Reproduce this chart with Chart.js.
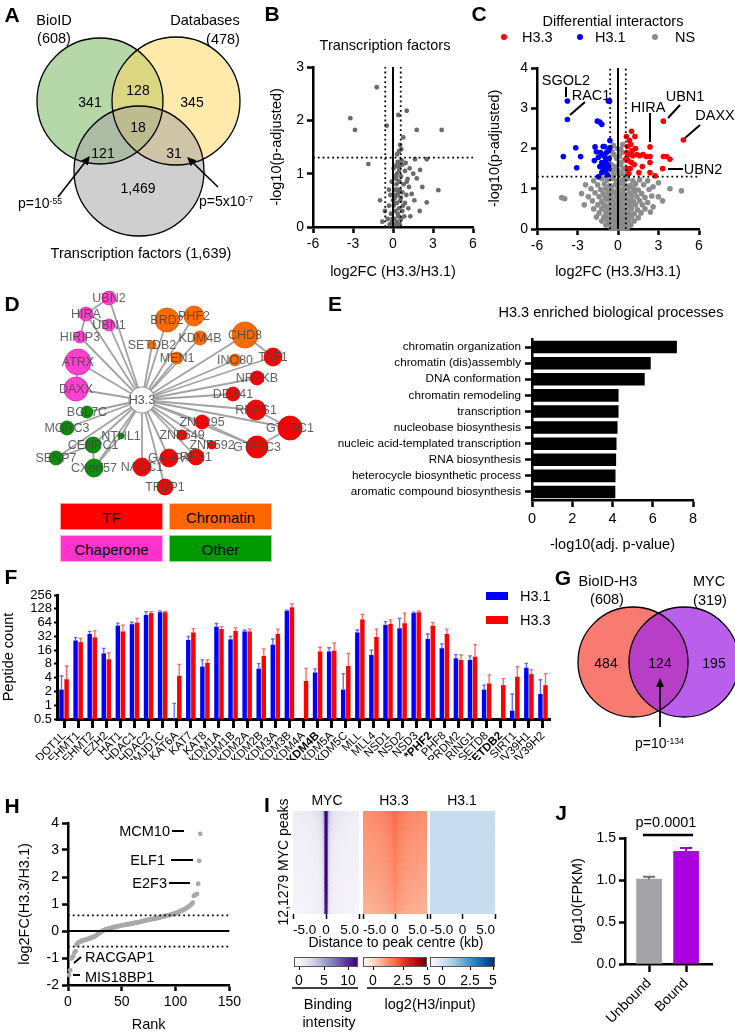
<!DOCTYPE html>
<html>
<head>
<meta charset="utf-8">
<title>H3.3 interactome figure</title>
<script src="https://cdn.jsdelivr.net/npm/chart.js@4.4.1/dist/chart.umd.min.js"></script>
<style>
  html, body { margin:0; padding:0; background:#fff; }
  #page { position:relative; width:735px; height:1032px; overflow:hidden; background:#fff;
          font-family:"Liberation Sans", Arial, Helvetica, sans-serif; color:#000; }
  #page canvas { position:absolute; }
  .tx { position:absolute; white-space:nowrap; line-height:1; }
  .tx sup { font-size:0.62em; line-height:0; vertical-align:0; position:relative; top:-0.45em; }
</style>
</head>
<body>
<div id="page"></div>
<script>
// ======================= DATA =======================
// Panel A (Venn)
const vennASets = ['BioID', 'Databases', 'Transcription factors'];
const vennASetTotals = ['608', '478', '1,639'];
const vennARegionCounts = ['341', '128', '345', '121', '18', '31', '1,469'];

// Panel B (transcription factors volcano) [log2FC, -log10 padj]
const tfPoints = [
 [-3.2,2.04],[-2.85,1.82],[-1.22,2.62],[1.03,2.18],[0.4,2.1],[-0.47,1.9],[1.78,1.82],[3.65,1.82],[0.77,1.68],[0.53,1.54],
 [0.45,1.42],[0.62,1.46],[0.3,1.36],[-1.85,1.18],[0.4,1.13],[0.55,1.16],[0.7,1.17],[1.65,1.27],[2.53,1.27],[2.03,1.07],
 [1.52,1.0],[1.03,0.85],[1.78,0.91],[3.4,0.69],[2.53,0.46],[-0.97,0.5],[1.25,1.1],[0.9,1.05],[0.3,1.0],[0.15,0.95],
 [0.6,0.95],[0.45,0.85],[0.8,0.8],[1.2,0.75],[0.25,0.8],[0.1,0.7],[0.5,0.7],[0.7,0.65],[1.0,0.6],[1.4,0.62],
 [0.35,0.6],[-0.2,0.6],[0.15,0.55],[0.55,0.5],[0.9,0.45],[1.6,0.5],[0.3,0.45],[-0.3,0.4],[0.05,0.4],[0.45,0.35],
 [0.7,0.3],[1.15,0.35],[0.2,0.3],[-0.15,0.25],[0.4,0.2],[0.6,0.15],[0.1,0.15],[-0.4,0.15],[0.85,0.2],[0.3,0.1],
 [-0.1,0.08],[0.2,0.05],[0.5,0.05],[-0.25,0.05],[1.3,0.2],[2.0,0.3],[-0.6,0.3],[-0.8,0.1],[0.05,1.1],[-0.1,0.85],
 [0.35,1.22],[0.2,1.15],[0.65,1.25],[-0.3,0.7],[1.1,0.9],[0.0,0.5],[2.2,0.75],[0.95,1.2],[0.25,0.9],[0.45,1.05],
 [0.15,0.6],[0.6,0.55],[0.35,0.25],[0.1,0.45],[0.5,0.85],[0.3,0.7],[0.75,0.4],[0.2,0.95],[-0.05,0.15],[0.4,0.65]
];
const fcCutoff = 0.58;
const padjCutoff = 1.3;

// Panel C (differential interactors) [log2FC, -log10 padj]
const h33Points = [
 [3.36,2.68],[4.84,2.21],[2.37,2.04],[3.36,1.8],[3.6,1.8],[3.85,1.73],[3.31,1.5],[1.0,2.43],[1.25,2.3],[0.85,2.2],
 [0.7,2.05],[0.95,2.1],[1.3,2.0],[0.65,1.9],[0.85,1.85],[1.1,1.82],[1.4,1.85],[1.6,1.82],[1.85,1.85],[2.1,1.8],
 [2.37,1.8],[2.37,1.65],[0.75,1.7],[1.0,1.65],[0.7,1.5],[1.2,1.6],[0.6,1.75],[1.55,1.4],[2.37,1.4],[2.75,1.32],
 [0.9,1.5],[1.8,1.55],[0.8,1.38],[1.05,1.95],[0.62,2.3]
];
const h31Points = [
 [-3.75,3.18],[-3.75,2.72],[-0.72,3.18],[-0.62,3.18],[-1.53,2.68],[-1.35,2.66],[-1.2,2.6],[-3.13,2.02],[-4.05,1.8],[-2.77,1.8],
 [-3.06,1.52],[-1.7,2.04],[-1.1,2.05],[-0.6,2.2],[-0.6,2.02],[-1.75,1.7],[-1.45,1.78],[-1.3,1.9],[-1.15,1.85],[-1.0,1.8],
 [-0.85,1.9],[-0.7,1.95],[-1.2,1.65],[-1.05,1.62],[-0.9,1.7],[-0.75,1.6],[-1.35,1.55],[-1.1,1.5],[-0.95,1.45],[-0.8,1.35],
 [-1.45,1.3],[-1.2,1.4],[-0.65,1.75],[-1.6,1.92],[-0.9,1.55],[-0.68,1.5],[-1.0,2.05]
];
const nsPoints = [
 [-0.45,1.92],[-0.3,1.85],[-0.1,1.75],[0.1,1.8],[0.3,1.9],[0.45,1.7],[-0.5,1.6],[-0.2,1.55],[0.2,1.6],[0.4,1.5],
 [-0.4,1.45],[0.0,1.45],[0.25,1.38],[-0.3,1.35],[0.5,1.35],[0.1,1.65],[-0.05,2.0],[0.35,2.1],[0.2,1.98],[-0.35,2.08],
 [-1.8,1.2],[-1.2,1.25],[-0.8,1.22],[-0.4,1.25],[-0.1,1.2],[0.3,1.22],[0.7,1.25],[1.1,1.2],[1.6,1.22],[2.2,1.2],
 [3.0,1.15],[-2.4,1.1],[-1.5,1.1],[-1.0,1.12],[-0.6,1.08],[-0.2,1.1],[0.15,1.12],[0.5,1.1],[0.9,1.08],[1.3,1.12],
 [1.9,1.1],[2.6,1.05],[-2.0,1.0],[-1.3,0.98],[-0.9,1.0],[-0.5,1.02],[0.0,1.0],[0.35,0.98],[0.75,1.02],[1.15,1.0],
 [1.5,0.97],[2.3,0.98],[3.85,1.0],[4.7,0.95],[-2.7,0.88],[-1.7,0.9],[-1.1,0.88],[-0.7,0.9],[-0.3,0.92],[0.1,0.9],
 [0.45,0.88],[0.85,0.9],[1.25,0.92],[1.75,0.88],[2.99,0.8],[-4.17,0.78],[-3.95,0.75],[-2.2,0.8],[-1.4,0.8],[-0.95,0.78],
 [-0.55,0.82],[-0.15,0.8],[0.25,0.8],[0.6,0.78],[1.0,0.82],[1.4,0.8],[2.0,0.78],[2.5,0.82],[-1.9,0.7],[-1.2,0.68],
 [-0.8,0.72],[-0.4,0.7],[0.0,0.7],[0.35,0.72],[0.75,0.7],[1.15,0.68],[1.6,0.7],[2.2,0.66],[3.3,0.7],[-2.5,0.6],
 [-1.5,0.6],[-1.0,0.58],[-0.6,0.6],[-0.25,0.62],[0.1,0.6],[0.5,0.6],[0.9,0.58],[1.3,0.6],[1.8,0.6],[2.6,0.55],
 [-1.8,0.5],[-1.2,0.5],[-0.75,0.52],[-0.4,0.5],[-0.1,0.48],[0.25,0.5],[0.6,0.52],[1.0,0.5],[1.45,0.48],[2.0,0.5],
 [-1.4,0.4],[-0.9,0.42],[-0.55,0.4],[-0.2,0.38],[0.15,0.4],[0.45,0.42],[0.8,0.4],[1.2,0.38],[1.7,0.4],[2.4,0.42],
 [-1.6,0.3],[-1.05,0.3],[-0.7,0.32],[-0.35,0.3],[0.0,0.28],[0.3,0.3],[0.65,0.32],[1.0,0.3],[1.5,0.28],[-1.2,0.2],
 [-0.8,0.22],[-0.45,0.2],[-0.15,0.18],[0.15,0.2],[0.45,0.22],[0.8,0.2],[1.2,0.2],[-0.9,0.1],[-0.6,0.12],[-0.3,0.1],
 [0.0,0.08],[0.3,0.1],[0.6,0.12],[0.95,0.1],[-0.5,0.03],[-0.2,0.02],[0.1,0.03],[0.4,0.02],[0.7,0.04],[-0.25,0.45],
 [0.2,0.65],[-0.05,0.35],[0.4,0.85],[-0.45,0.95],[0.05,1.15],[0.55,0.25],[-0.6,0.85],[0.65,1.05],[-0.15,0.6],[0.25,0.15],
 [1.05,0.7],[-1.05,0.6],[0.85,0.35],[-0.85,0.4],[0.1,0.5],[-0.1,0.9],[0.45,1.2],[-0.3,0.2],[0.7,0.55],[-0.5,0.7]
];
const diffGroups = ['H3.3', 'H3.1', 'NS'];
const labelledGenes = ['SGOL2', 'RAC1', 'HIRA', 'UBN1', 'DAXX', 'UBN2'];

// Panel D (network)
const netNodes = ['UBN2','HIRA','UBN1','HIRIP3','ATRX','DAXX','BRD2','PHF2','SETDB2','KDM4B','MEN1','CHD8','INO80',
  'TAF1','NFRKB','DDX41','RNPS1','GTF3C1','GTF3C3','ZNF295','ZNF649','ZNF592','RFX1','GABPA','NACC1','TFDP1',
  'BCL7C','MORC3','NTHL1','CENPC1','SENP7','CXorf57'];
const netClasses = ['Chaperone','Chaperone','Chaperone','Chaperone','Chaperone','Chaperone',
  'Chromatin','Chromatin','Chromatin','Chromatin','Chromatin','Chromatin','Chromatin',
  'TF','TF','TF','TF','TF','TF','TF','TF','TF','TF','TF','TF','TF',
  'Other','Other','Other','Other','Other','Other'];
const netWeights = [7,7,6,6,13,12,12,10,4,7,6,13,6,9,7,7,10,12,11,7,5,4,8,9,9,8,6,7,3,8,7,9];
const netHub = 'H3.3';
const netExtraEdges = [['HIRA','UBN2'],['HIRA','UBN1'],['HIRA','HIRIP3'],['ATRX','DAXX'],['CHD8','TAF1'],
  ['RNPS1','GTF3C1'],['GTF3C1','GTF3C3'],['ZNF295','GTF3C3'],['CENPC1','CXorf57'],['CENPC1','SENP7'],['NTHL1','CXorf57']];
const netCategories = ['TF', 'Chromatin', 'Chaperone', 'Other'];

// Panel E (GO enrichment)
const goTerms = ['chromatin organization','chromatin (dis)assembly','DNA conformation','chromatin remodeling',
  'transcription','nucleobase biosynthesis','nucleic acid-templated transcription','RNA biosynthesis',
  'heterocycle biosynthetic process','aromatic compound biosynthesis'];
const goScores = [7.2, 5.9, 5.6, 4.3, 4.3, 4.25, 4.2, 4.18, 4.15, 4.14];

// Panel F (peptide counts)
const modifiers = ['DOT1L','EHMT1','EHMT2','EZH2','HAT1','HDAC1','HDAC2','JMJD1C','KAT6A','KAT7','KAT8',
  'KDM1A','KDM1B','KDM2A','KDM2B','KDM3A','KDM3B','KDM4A','*KDM4B','KDM5A','KDM5C','MLL','MLL4','NSD1',
  'NSD2','NSD3','*PHF2','PHF8','PRDM2','RING1','SETD8','*SETDB2','SIRT1','SUV39H1','SUV39H2'];
const h31Counts = [2.2,26,36,13.6,55,59,94,108,null,26.6,7.0,52,27.5,41,6.3,21,116,null,5.2,15,2.2,39,12.5,57,48,103,28,17.6,10.6,9.8,2.2,null,0.76,6.6,1.76];
const h31Upper  = [4.35,30,41,17.5,62,65,111,115,1.1,32,9.8,61,32,44,8.1,28,120,null,6.2,18,4.9,44,16,67,79,108,36,22,12.7,12,2.75,null,1.76,8.2,3.6];
const h33Counts = [3.7,24,30.5,10.1,41,64,103,108,4.4,39,8.5,46,42,41,12,36,138,3.4,15,15.6,7.2,75,31,60,62,108,55,36,9.8,11.5,3,2.75,4.2,4.8,2.75];
const h33Upper  = [7.2,29,42,14,56,79,111,111,7.8,47,9.8,52,49,46,17,46,164,6.4,18.5,23,13.6,97,46,73,103,115,64,46,12.5,21,4.6,3.8,7,5.9,4.9];
const peptideTicks = [0.5, 1, 2, 4, 8, 16, 32, 64, 128, 256];

// Panel G (Venn)
const vennGSets = ['BioID-H3', 'MYC'];
const vennGSetTotals = ['608', '319'];
const vennGRegionCounts = ['484', '124', '195'];

// Panel H (ranked log2FC of MYC-bound interactors)
const rankedFC = [
 -1.63,-1.45,-1.02,-0.98,-0.92,-0.8,-0.75,-0.5,-0.45,-0.42,
 -0.4,-0.38,-0.37,-0.35,-0.34,-0.33,-0.32,-0.3,-0.29,-0.28,
 -0.26,-0.25,-0.23,-0.21,-0.19,-0.17,-0.14,-0.11,-0.08,-0.05,
 -0.03,0.0,0.02,0.04,0.05,0.07,0.08,0.09,0.1,0.11,
 0.12,0.13,0.14,0.15,0.16,0.17,0.18,0.19,0.2,0.21,
 0.22,0.22,0.23,0.24,0.25,0.25,0.26,0.27,0.27,0.28,
 0.29,0.3,0.31,0.31,0.32,0.33,0.34,0.35,0.36,0.37,
 0.38,0.39,0.4,0.41,0.42,0.42,0.43,0.44,0.45,0.45,
 0.46,0.47,0.48,0.49,0.5,0.51,0.52,0.53,0.54,0.55,
 0.56,0.57,0.58,0.59,0.6,0.61,0.62,0.63,0.64,0.65,
 0.67,0.69,0.7,0.72,0.74,0.76,0.78,0.8,0.82,0.84,
 0.87,0.9,0.93,0.96,1.0,1.05,
 1.3,1.33,1.35,1.37,
 1.75,2.6,3.6
];
const rankedLabels = ['MCM10','ELF1','E2F3','RACGAP1','MIS18BP1'];

// Panel I (heatmaps: 40 bins from -5 to +5 kb, 40 row groups top->bottom)
const heatTracks = ['MYC', 'H3.3', 'H3.1'];
const mycProfile = [1.0,1.0,1.0,1.05,1.05,1.05,1.1,1.1,1.15,1.15,1.2,1.25,1.3,1.35,1.45,1.6,1.8,2.2,3.2,14,
                    14,3.2,2.2,1.8,1.6,1.45,1.35,1.3,1.25,1.2,1.15,1.15,1.1,1.1,1.05,1.05,1.05,1.0,1.0,1.0];
const mycRows = [1.55,1.5,1.42,1.38,1.33,1.3,1.25,1.22,1.2,1.16,1.14,1.1,1.08,1.05,1.04,1.02,1.0,0.98,0.97,0.95,
                 0.94,0.93,0.92,0.9,0.9,0.89,0.88,0.87,0.86,0.85,0.85,0.84,0.83,0.82,0.82,0.81,0.8,0.8,0.79,0.78];
const h33Profile = [1.75,1.75,1.76,1.77,1.78,1.79,1.8,1.81,1.82,1.83,1.85,1.87,1.89,1.92,1.95,1.98,2.02,2.07,2.14,2.25,
                    2.25,2.14,2.07,2.02,1.98,1.95,1.92,1.89,1.87,1.85,1.83,1.82,1.81,1.8,1.79,1.78,1.77,1.76,1.75,1.75];
const h33Rows = [1.12,1.1,1.08,1.1,1.06,1.05,1.07,1.03,1.04,1.02,1.0,1.02,0.99,1.0,0.98,0.97,0.99,0.96,0.95,0.97,
                 0.94,0.93,0.95,0.92,0.91,0.93,0.9,0.89,0.9,0.87,0.88,0.86,0.85,0.86,0.83,0.84,0.82,0.8,0.81,0.78];
const h31Profile = [1.18,1.18,1.19,1.19,1.19,1.2,1.2,1.2,1.2,1.2,1.21,1.21,1.21,1.21,1.22,1.22,1.22,1.23,1.23,1.24,
                    1.24,1.23,1.23,1.22,1.22,1.22,1.21,1.21,1.21,1.21,1.2,1.2,1.2,1.2,1.2,1.19,1.19,1.19,1.18,1.18];
const h31Rows = [1.0,1.02,0.99,1.01,1.0,0.98,1.01,1.0,0.99,1.02,1.0,0.99,1.0,1.01,0.98,1.0,0.99,1.0,1.01,0.99,
                 0.98,1.0,0.99,1.0,0.98,0.99,1.0,0.98,0.99,0.98,0.99,0.98,0.97,0.99,0.98,0.97,0.98,0.97,0.96,0.97];
const heatTickValues = [-5, 0, 5];
const mycBarTicks = ['0', '5', '10'];
const h3BarTicks = ['0', '2.5', '5'];

// Panel J
const jGroups = ['Unbound', 'Bound'];
const jMeans = [1.01, 1.34];
const jSEM = [0.03, 0.04];
const jPvalue = 'p=0.0001';

// ======================= STYLE / HELPERS =======================
const page = document.getElementById('page');
const FONT = '"Liberation Sans", Arial, Helvetica, sans-serif';
Chart.defaults.font.family = FONT;
Chart.defaults.color = '#000';

function canvasAt(L, T, W, H) {
  const c = document.createElement('canvas');
  c.width = W; c.height = H;
  c.style.left = L + 'px'; c.style.top = T + 'px';
  c.style.width = W + 'px'; c.style.height = H + 'px';
  page.appendChild(c);
  return c;
}
function baseOpts() {
  return { responsive:false, maintainAspectRatio:false, animation:false, events:[], devicePixelRatio:1,
    plugins:{ legend:{display:false}, tooltip:{enabled:false} } };
}
function pixelChart(L, T, W, H, datasets, plugins) {
  const cv = canvasAt(L, T, W, H);
  const o = baseOpts();
  o.layout = { padding:0, autoPadding:false };
  o.scales = { x:{type:'linear', display:false, min:L, max:L+W}, y:{type:'linear', display:false, min:T, max:T+H, reverse:true} };
  return new Chart(cv, { type:'bubble', data:{datasets}, options:o, plugins:plugins||[] });
}
function axis(o) {
  const s = {
    type: o.type || 'linear',
    border: { display:true, color:'#000', width:o.bw || 2.5 },
    grid: { display:true, drawOnChartArea:false, drawTicks:true, tickLength:(o.tl !== undefined ? o.tl : 6),
            tickWidth:o.tw || 2.5, tickColor:'#000', color:'#000', offset:false },
    ticks: Object.assign({ color:'#000', font:{ size:o.fs || 14 }, padding:(o.tp !== undefined ? o.tp : 3), autoSkip:false }, o.ticks || {})
  };
  if (o.min !== undefined) s.min = o.min;
  if (o.max !== undefined) s.max = o.max;
  if (o.title) s.title = { display:true, text:o.title, color:'#000', font:{ size:o.tfs || 14.5 }, padding:0 };
  if (o.extra) Object.assign(s, o.extra);
  return s;
}
// area = [x0,y0,x1,y1] of the plotting area in page pixels
function axisChart(area, o, type, data, scales, plugins, extra) {
  const L = Math.round(area[0] - o.yW), T = Math.round(area[1] - o.pT);
  const W = Math.round(area[2] + o.pR - L), H = Math.round(area[3] + o.xH - T);
  const yW = area[0] - L, pT = area[1] - T, pR = L + W - area[2], xH = T + H - area[3];
  const cv = canvasAt(L, T, W, H);
  scales.y.afterFit = s => { s.width = yW; };
  scales.x.afterFit = s => { s.height = xH; };
  const opts = Object.assign(baseOpts(), { layout:{ autoPadding:false, padding:{ top:pT, right:pR, bottom:0, left:0 } }, scales }, extra || {});
  return new Chart(cv, { type, data, options:opts, plugins:plugins || [] });
}
function refLines(lines) {
  return { id:'reflines', afterDatasetsDraw(chart) {
    const { ctx, scales:{ x, y } } = chart;
    ctx.save();
    lines.forEach(l => {
      ctx.beginPath();
      ctx.lineWidth = l.w; ctx.strokeStyle = '#000'; ctx.lineCap = 'butt';
      ctx.setLineDash(l.dash || []);
      ctx.moveTo(x.getPixelForValue(l.x1), y.getPixelForValue(l.y1));
      ctx.lineTo(x.getPixelForValue(l.x2), y.getPixelForValue(l.y2));
      ctx.stroke();
    });
    ctx.restore();
  }};
}
function txt(html, x, y, size, opt) {
  opt = opt || {};
  const d = document.createElement('div');
  d.className = 'tx';
  d.style.left = x + 'px'; d.style.top = y + 'px'; d.style.fontSize = size + 'px';
  const tx = opt.anchor === 'l' ? '0' : (opt.anchor === 'r' ? '-100%' : '-50%');
  d.style.transform = `translate(${tx},-50%)` + (opt.rot ? ` rotate(${opt.rot}deg)` : '');
  if (opt.bold) d.style.fontWeight = 'bold';
  if (opt.color) d.style.color = opt.color;
  d.innerHTML = html;
  page.appendChild(d);
  return d;
}
function box(x, y, w, h, style) {
  const d = document.createElement('div');
  d.style.position = 'absolute';
  d.style.left = x + 'px'; d.style.top = y + 'px'; d.style.width = w + 'px'; d.style.height = h + 'px';
  Object.assign(d.style, style || {});
  page.appendChild(d);
  return d;
}
function hexToRgb(h) { return [parseInt(h.substr(1,2),16), parseInt(h.substr(3,2),16), parseInt(h.substr(5,2),16)]; }
function colorAt(stops, t) {
  t = Math.max(0, Math.min(1, t));
  const p = t * (stops.length - 1), i = Math.min(Math.floor(p), stops.length - 2), f = p - i;
  const a = hexToRgb(stops[i]), b = hexToRgb(stops[i+1]);
  return `rgb(${Math.round(a[0]+(b[0]-a[0])*f)},${Math.round(a[1]+(b[1]-a[1])*f)},${Math.round(a[2]+(b[2]-a[2])*f)})`;
}
const PURPLES = ['#fcfbfd','#efedf5','#dadaeb','#bcbddc','#9e9ac8','#807dba','#6a51a3','#54278f','#3f007d'];
const REDS = ['#fff5f0','#fee0d2','#fcbba1','#fc9272','#fb6a4a','#ef3b2c','#cb181d','#a50f15','#67000d'];
const BLUES = ['#f7fbff','#deebf7','#c6dbef','#9ecae1','#6baed6','#4292c6','#2171b5','#08519c','#08306b'];

const TXT = 14.5;
const toXY = p => ({ x:p[0], y:p[1] });

// ======================= PANEL A =======================
(function () {
  const circles = [{x:100,y:101,r:63},{x:176,y:101,r:64},{x:139,y:171,r:65}];
  const fills = ['rgb(182,215,168)', 'rgba(255,213,89,0.5)', 'rgba(160,160,160,0.5)'];
  pixelChart(0, 0, 262, 262, [
    { data:circles.map(c => ({x:c.x, y:c.y, r:c.r})), backgroundColor:fills, borderWidth:0, order:2, clip:false },
    { data:circles.map(c => ({x:c.x, y:c.y, r:c.r})), backgroundColor:'rgba(0,0,0,0)', borderColor:'#000', borderWidth:1.3, order:1, clip:false }
  ]);
  txt(vennASets[0], 54, 20, TXT); txt('(' + vennASetTotals[0] + ')', 54, 38, TXT);
  txt(vennASets[1], 205, 20, TXT); txt('(' + vennASetTotals[1] + ')', 223, 39, TXT);
  const pos = [[90,102],[138,90],[192,102],[103,153],[138,127],[174,153],[138,188]];
  vennARegionCounts.forEach((s, i) => txt(s, pos[i][0], pos[i][1], 14));
  txt('p=10<sup>-55</sup>', 18, 203, 14, {anchor:'l'});
  txt('p=5x10<sup>-7</sup>', 199, 201, 14, {anchor:'l'});
  txt(vennASets[2] + ' (' + vennASetTotals[2] + ')', 141, 253, TXT);
})();

// ======================= PANEL B =======================
axisChart([313, 67, 473, 227], { yW:44.7, pT:15, pR:14, xH:53.7 }, 'scatter',
  { datasets:[{ data:tfPoints.map(toXY), pointRadius:2.4, pointBackgroundColor:'#6b6b6b', pointBorderWidth:0, clip:false }] },
  { x:axis({ min:-6, max:6, ticks:{ stepSize:3 }, title:'log2FC (H3.3/H3.1)' }),
    y:axis({ min:0, max:3, ticks:{ stepSize:1 }, title:'-log10(p-adjusted)' }) },
  [refLines([
    { x1:-6, y1:padjCutoff, x2:6, y2:padjCutoff, w:1.8, dash:[1.8,3] },
    { x1:-fcCutoff, y1:0, x2:-fcCutoff, y2:3, w:1.8, dash:[1.8,3] },
    { x1:fcCutoff, y1:0, x2:fcCutoff, y2:3, w:1.8, dash:[1.8,3] },
    { x1:0, y1:0, x2:0, y2:3, w:2 }
  ])]);
txt('Transcription factors', 385, 45, TXT);

// ======================= PANEL C =======================
axisChart([537, 68, 699, 229], { yW:50.7, pT:20, pR:36, xH:51.7 }, 'scatter',
  { datasets:[
    { data:nsPoints.map(toXY), pointRadius:2.8, pointBackgroundColor:'#8c8c8c', pointBorderWidth:0, clip:false, order:3 },
    { data:h31Points.map(toXY), pointRadius:2.8, pointBackgroundColor:'#0000ff', pointBorderWidth:0, clip:false, order:2 },
    { data:h33Points.map(toXY), pointRadius:2.8, pointBackgroundColor:'#ff0000', pointBorderWidth:0, clip:false, order:1 }
  ]},
  { x:axis({ min:-6, max:6, ticks:{ stepSize:3 }, title:'log2FC (H3.3/H3.1)' }),
    y:axis({ min:0, max:4, ticks:{ stepSize:1 }, title:'-log10(p-adjusted)' }) },
  [refLines([
    { x1:-6, y1:padjCutoff, x2:6, y2:padjCutoff, w:1.8, dash:[1.8,3] },
    { x1:-fcCutoff, y1:0, x2:-fcCutoff, y2:4, w:1.8, dash:[1.8,3] },
    { x1:fcCutoff, y1:0, x2:fcCutoff, y2:4, w:1.8, dash:[1.8,3] },
    { x1:0, y1:0, x2:0, y2:4, w:2 }
  ])]);
txt('Differential interactors', 613, 21, TXT);
[['#ff0000',504,522],['#0000ff',580,595],['#8c8c8c',655,675]].forEach((c, i) => {
  box(c[1]-3, 34, 6, 6, { background:c[0], borderRadius:'50%' });
  txt(diffGroups[i], c[2], 37, TXT, {anchor:'l'});
});
const geneLabelPos = [[566,80],[591,95],[648,107],[685,96],[715,115],[703,169]];
labelledGenes.forEach((g, i) => txt(g, geneLabelPos[i][0], geneLabelPos[i][1], TXT));

// ======================= PANEL D =======================
(function () {
  const nodeLayoutX = [109,86,109,80,78,76,167,194,152,200,177,245,235,273,257,233,256,290,257,202,182,212,196,169,142,165,87,67,121,93,56,94];
  const nodeLayoutY = [298,314,325,337,362,389,320,316,345,338,358,335,360,357,378,394,410,428,447,422,435,445,457,458,467,487,412,428,436,445,458,468];
  const hub = { x:142, y:400 };
  const fillOf = { TF:'#ff0000', Chromatin:'#ff6a00', Chaperone:'#ff40d0', Other:'#0a8f0a' };
  const edgeOf = { TF:'#d40000', Chromatin:'#d85800', Chaperone:'#d828b0', Other:'#067006' };
  const legendFill = { TF:'#ff0000', Chromatin:'#ff6600', Chaperone:'#ff33cc', Other:'#009900' };
  const idx = n => netNodes.indexOf(n);
  const edges = netNodes.map((n, i) => [hub, { x:nodeLayoutX[i], y:nodeLayoutY[i] }]);
  netExtraEdges.forEach(e => edges.push([{x:nodeLayoutX[idx(e[0])], y:nodeLayoutY[idx(e[0])]}, {x:nodeLayoutX[idx(e[1])], y:nodeLayoutY[idx(e[1])]}]));
  const ds = edges.map(e => ({ type:'scatter', showLine:true, data:e, borderColor:'#a2a2a2', borderWidth:1.8, pointRadius:0, order:3, clip:false }));
  ds.push({ data:netNodes.map((n, i) => ({ x:nodeLayoutX[i], y:nodeLayoutY[i], r:netWeights[i] })),
            backgroundColor:netClasses.map(c => fillOf[c]), borderColor:netClasses.map(c => edgeOf[c]), borderWidth:0.8, order:2, clip:false });
  ds.push({ data:[{ x:hub.x, y:hub.y, r:13 }], backgroundColor:'#ffffff', borderColor:'#9a9a9a', borderWidth:1.2, order:1, clip:false });
  const labels = { id:'netlabels', afterDatasetsDraw(chart) {
    const { ctx, scales:{ x, y } } = chart;
    ctx.save();
    ctx.font = '12.5px ' + FONT; ctx.textAlign = 'center'; ctx.textBaseline = 'middle';
    ctx.fillStyle = 'rgba(70,70,70,0.85)';
    netNodes.forEach((n, i) => ctx.fillText(n, x.getPixelForValue(nodeLayoutX[i]), y.getPixelForValue(nodeLayoutY[i]) + 0.5));
    ctx.fillStyle = '#555';
    ctx.fillText(netHub, x.getPixelForValue(hub.x), y.getPixelForValue(hub.y) + 0.5);
    ctx.restore();
  }};
  pixelChart(0, 282, 330, 218, ds, [labels]);
  const legendBoxes = [[60,503],[169,503],[60,535],[169,535]];
  netCategories.forEach((c, i) => {
    box(legendBoxes[i][0], legendBoxes[i][1], 103, 27, { background:legendFill[c], boxSizing:'border-box', border:'1px solid rgba(255,255,255,0.6)' });
    txt(c, legendBoxes[i][0] + 51.5, legendBoxes[i][1] + 14, 15);
  });
})();

// ======================= PANEL E =======================
axisChart([532, 338, 693, 500], { yW:202, pT:10, pR:20, xH:53.7 }, 'bar',
  { labels:goTerms, datasets:[{ data:goScores, backgroundColor:'#000', barPercentage:0.78, categoryPercentage:1 }] },
  { x:axis({ min:0, max:8, ticks:{ stepSize:2, font:{ size:14.5 } }, tl:7, title:'-log10(adj. p-value)' }),
    y:axis({ type:'category', tl:7, fs:11.7, tp:4, extra:{ offset:true } }) },
  [], { indexAxis:'y' });
txt('H3.3 enriched biological processes', 611, 312, TXT);

// ======================= PANEL F =======================
(function () {
  const errPlugin = { id:'ferr', afterDatasetsDraw(chart) {
    const ctx = chart.ctx, ys = chart.scales.y;
    const uppers = [h31Upper, h33Upper], vals = [h31Counts, h33Counts], cols = ['#6464ff', '#ff6464'];
    ctx.save();
    [0, 1].forEach(di => {
      chart.getDatasetMeta(di).data.forEach((bar, j) => {
        const up = uppers[di][j];
        if (up == null) return;
        const v = vals[di][j];
        const y0 = v == null ? ys.bottom : ys.getPixelForValue(v);
        const y1 = ys.getPixelForValue(up);
        ctx.strokeStyle = cols[di]; ctx.lineWidth = 1.3;
        ctx.beginPath(); ctx.moveTo(bar.x, y0); ctx.lineTo(bar.x, y1);
        ctx.moveTo(bar.x - 1.8, y1); ctx.lineTo(bar.x + 1.8, y1); ctx.stroke();
      });
    });
    ctx.restore();
  }};
  axisChart([57, 595, 550, 719], { yW:57, pT:12, pR:14, xH:41 }, 'bar',
    { labels:modifiers, datasets:[
      { data:h31Counts, backgroundColor:'#0000ff', barPercentage:0.88, categoryPercentage:0.72 },
      { data:h33Counts, backgroundColor:'#ff0000', barPercentage:0.88, categoryPercentage:0.72 } ] },
    { x:axis({ type:'category', bw:3, tl:9, tw:3, tp:1,
               ticks:{ autoSkip:false, minRotation:45, maxRotation:45,
                       font:(ctx) => ({ size:11.5, weight:(modifiers[ctx.index] || '').charAt(0) === '*' ? 'bold' : 'normal' }) },
               extra:{ offset:true } }),
      y:axis({ type:'logarithmic', min:0.5, max:256, bw:3, tl:3, tw:2, tp:2, fs:13,
               ticks:{ autoSkip:false, callback:(v) => String(v) }, title:'Peptide count',
               extra:{ afterBuildTicks:(s) => { s.ticks = peptideTicks.map(v => ({ value:v })); } } }) },
    [errPlugin]);
  box(486, 592, 22, 8, { background:'#0000ff' });
  box(486, 616, 22, 8, { background:'#ff0000' });
  txt('H3.1', 520, 596, TXT, {anchor:'l'});
  txt('H3.3', 520, 620, TXT, {anchor:'l'});
})();

// ======================= PANEL G =======================
(function () {
  const circles = [{x:633,y:662,r:55},{x:684,y:662,r:55}];
  pixelChart(560, 590, 175, 140, [
    { data:circles.map(c => ({x:c.x, y:c.y, r:c.r})), backgroundColor:['rgb(249,122,112)', 'rgba(162,42,228,0.75)'], borderWidth:0, order:2, clip:false },
    { data:circles.map(c => ({x:c.x, y:c.y, r:c.r})), backgroundColor:'rgba(0,0,0,0)', borderColor:'#000', borderWidth:1.3, order:1, clip:false }
  ]);
  txt(vennGSets[0], 608, 581, TXT); txt('(' + vennGSetTotals[0] + ')', 607, 599, TXT);
  txt(vennGSets[1], 709, 581, TXT); txt('(' + vennGSetTotals[1] + ')', 710, 600, TXT);
  const pos = [[606,663],[660,663],[714,663]];
  vennGRegionCounts.forEach((s, i) => txt(s, pos[i][0], pos[i][1], 14));
  txt('p=10<sup>-134</sup>', 635, 743, 14, {anchor:'l'});
})();

// ======================= PANEL H =======================
axisChart([68, 823, 230, 985], { yW:51.7, pT:12, pR:14, xH:48.7 }, 'scatter',
  { datasets:[{ data:rankedFC.map((v, i) => ({ x:i + 1, y:v })), pointRadius:2.4, pointBackgroundColor:'#a9a9a9', pointBorderWidth:0, clip:false }] },
  { x:axis({ min:0, max:150, ticks:{ stepSize:50 }, title:'Rank' }),
    y:axis({ min:-2, max:4, ticks:{ stepSize:1 }, title:'log2FC(H3.3/H3.1)' }) },
  [refLines([
    { x1:0, y1:0, x2:150, y2:0, w:2 },
    { x1:0, y1:fcCutoff, x2:150, y2:fcCutoff, w:1.8, dash:[1.8,3] },
    { x1:0, y1:-fcCutoff, x2:150, y2:-fcCutoff, w:1.8, dash:[1.8,3] }
  ])]);
txt(rankedLabels[0], 170, 831, TXT, {anchor:'r'});
txt(rankedLabels[1], 165, 860, TXT, {anchor:'r'});
txt(rankedLabels[2], 167, 883, TXT, {anchor:'r'});
txt(rankedLabels[3], 85, 957, TXT, {anchor:'l'});
txt(rankedLabels[4], 85, 977, TXT, {anchor:'l'});

// ======================= PANEL I =======================
(function () {
  function heatChart(area, prof, rows, stops, vmax) {
    const pL = 14, pR = 14, pT = 4, xH = 30;
    const L = area[0] - pL, T = area[1] - pT, W = area[2] - area[0] + pL + pR, H = area[3] - area[1] + pT + xH;
    const cv = canvasAt(L, T, W, H);
    const heat = { id:'heat', beforeDatasetsDraw(chart) {
      const { ctx, scales:{ x, y }, chartArea:ca } = chart;
      const step = 10 / prof.length;
      ctx.save();
      ctx.beginPath(); ctx.rect(ca.left, ca.top, ca.right - ca.left, ca.bottom - ca.top); ctx.clip();
      for (let r = 0; r < rows.length; r++) {
        const y0 = y.getPixelForValue(r), y1 = y.getPixelForValue(r + 1);
        for (let c = 0; c < prof.length; c++) {
          const x0 = x.getPixelForValue(-5 + c * step), x1 = x.getPixelForValue(-5 + (c + 1) * step);
          ctx.fillStyle = colorAt(stops, prof[c] * rows[r] / vmax);
          ctx.fillRect(x0, y0, x1 - x0 + 0.7, y1 - y0 + 0.7);
        }
      }
      ctx.restore();
    }};
    const o = baseOpts();
    o.layout = { autoPadding:false, padding:{ left:pL, right:pR, top:pT, bottom:0 } };
    o.scales = {
      x:{ type:'linear', min:-5, max:5, border:{ display:false },
          grid:{ display:true, drawOnChartArea:false, drawTicks:true, tickLength:5, tickWidth:1.5, tickColor:'#000' },
          ticks:{ align:'inner', maxRotation:0, minRotation:0, padding:3, color:'#000', font:{ size:13.5 }, autoSkip:false,
                  callback:(v) => (v === 0 ? '0' : v.toFixed(1)) },
          afterBuildTicks:(s) => { s.ticks = heatTickValues.map(v => ({ value:v })); },
          afterFit:(s) => { s.height = xH; } },
      y:{ type:'linear', display:false, min:0, max:rows.length, reverse:true }
    };
    new Chart(cv, { type:'scatter', data:{ datasets:[{ data:[] }] }, options:o, plugins:[heat] });
  }
  heatChart([293, 811, 359, 914], mycProfile, mycRows, PURPLES, 12);
  heatChart([363, 811, 427, 914], h33Profile, h33Rows, REDS, 5);
  heatChart([430, 811, 495, 914], h31Profile, h31Rows, BLUES, 5);
  txt(heatTracks[0], 327, 800, 14); txt(heatTracks[1], 394, 800, 14); txt(heatTracks[2], 462, 800, 14);
  txt('12,1279 MYC peaks', 283, 862, 14, {rot:-90});
  txt('Distance to peak centre (kb)', 396, 942, 14);
  const grad = s => 'linear-gradient(to right,' + s.join(',') + ')';
  const bars = [[294, 64, PURPLES], [363, 64, REDS], [430, 65, BLUES]];
  bars.forEach(b => box(b[0], 957, b[1], 10, { background:grad(b[2]), boxSizing:'border-box', border:'1px solid #555' }));
  const tickPos = [[299,324,348,mycBarTicks],[373,403,427,h3BarTicks],[442,470,493,h3BarTicks]];
  tickPos.forEach(t => {
    [0,1,2].forEach(k => { box(t[k] - 0.5, 967, 1, 3, { background:'#000' }); txt(t[3][k], t[k], 980, 14); });
  });
  txt('Binding', 328, 1004, TXT); txt('intensity', 329, 1022, TXT);
  txt('log2(H3/input)', 430, 1004, TXT);
})();

// ======================= PANEL J =======================
(function () {
  const errPlugin = { id:'jerr', afterDatasetsDraw(chart) {
    const ctx = chart.ctx, ys = chart.scales.y, cols = ['#707074', '#9a00cc'];
    ctx.save();
    chart.getDatasetMeta(0).data.forEach((bar, j) => {
      const y0 = ys.getPixelForValue(jMeans[j]), y1 = ys.getPixelForValue(jMeans[j] + jSEM[j]);
      ctx.strokeStyle = cols[j]; ctx.lineWidth = 2;
      ctx.beginPath(); ctx.moveTo(bar.x, y0); ctx.lineTo(bar.x, y1);
      ctx.moveTo(bar.x - 6, y1); ctx.lineTo(bar.x + 6, y1); ctx.stroke();
    });
    ctx.restore();
  }};
  axisChart([625, 838, 712, 964], { yW:55.7, pT:12, pR:14, xH:68 }, 'bar',
    { datasets:[{ data:jMeans.map((v, i) => ({ x:i, y:v })), backgroundColor:['#a3a3a8', '#aa00e0'], barThickness:25 }] },
    { x:axis({ min:-0.65, max:1.7, tl:8, ticks:{ minRotation:45, maxRotation:45, callback:(v) => jGroups[v] || '' },
               extra:{ offset:false, afterBuildTicks:(s) => { s.ticks = jGroups.map((g, i) => ({ value:i })); } } }),
      y:axis({ min:0, max:1.5, ticks:{ stepSize:0.5, callback:(v) => v.toFixed(1) }, title:'log10(FPKM)' }) },
    [errPlugin]);
  txt(jPvalue, 666, 822, TXT);
})();

// ======================= PANEL LETTERS =======================
[['A',12,14],['B',272,13],['C',479,13],['D',12,303],['E',335,303],['F',11,576],['G',563,577],['H',12,805],['I',267,804],['J',561,812]]
  .forEach(l => txt(l[0], l[1], l[2], 21, {bold:true}));

// ======================= ANNOTATION LINES (SVG overlay) =======================
(function () {
  const NS = 'http://www.w3.org/2000/svg';
  const svg = document.createElementNS(NS, 'svg');
  svg.setAttribute('width', 735); svg.setAttribute('height', 1032);
  svg.style.position = 'absolute'; svg.style.left = '0'; svg.style.top = '0';
  function line(x1, y1, x2, y2, w) {
    const l = document.createElementNS(NS, 'line');
    l.setAttribute('x1', x1); l.setAttribute('y1', y1); l.setAttribute('x2', x2); l.setAttribute('y2', y2);
    l.setAttribute('stroke', '#000'); l.setAttribute('stroke-width', w || 1.5);
    svg.appendChild(l);
  }
  function arrow(x1, y1, x2, y2, w, head) {
    const a = Math.atan2(y2 - y1, x2 - x1);
    const bx = x2 - head * Math.cos(a), by = y2 - head * Math.sin(a);
    line(x1, y1, bx, by, w);
    const px = -Math.sin(a) * head * 0.45, py = Math.cos(a) * head * 0.45;
    const p = document.createElementNS(NS, 'polygon');
    p.setAttribute('points', `${x2},${y2} ${bx + px},${by + py} ${bx - px},${by - py}`);
    p.setAttribute('fill', '#000');
    svg.appendChild(p);
  }
  // A
  arrow(58, 197, 90, 156, 1.6, 9);
  arrow(218, 187, 187, 157, 1.6, 9);
  // C leaders
  line(566, 87, 566, 97, 2); line(570, 115, 585, 102, 2); line(650, 113, 650, 142, 2);
  line(668, 118, 680, 105, 2); line(685, 138, 700, 125, 2); line(668, 169, 683, 169, 2);
  // G
  arrow(660, 727, 660, 678, 1.8, 9);
  // H leaders
  line(172, 831, 184, 831, 2); line(171, 860, 193, 860, 2); line(169, 883, 190, 883, 2);
  line(74, 963, 81, 957, 2); line(73, 975, 80, 975, 2);
  // I underlines
  line(292, 988, 358, 988, 1.5); line(367, 988, 493, 988, 1.5);
  // J significance
  line(643, 835, 693, 835, 2.5);
  page.appendChild(svg);
})();
</script>
</body>
</html>
